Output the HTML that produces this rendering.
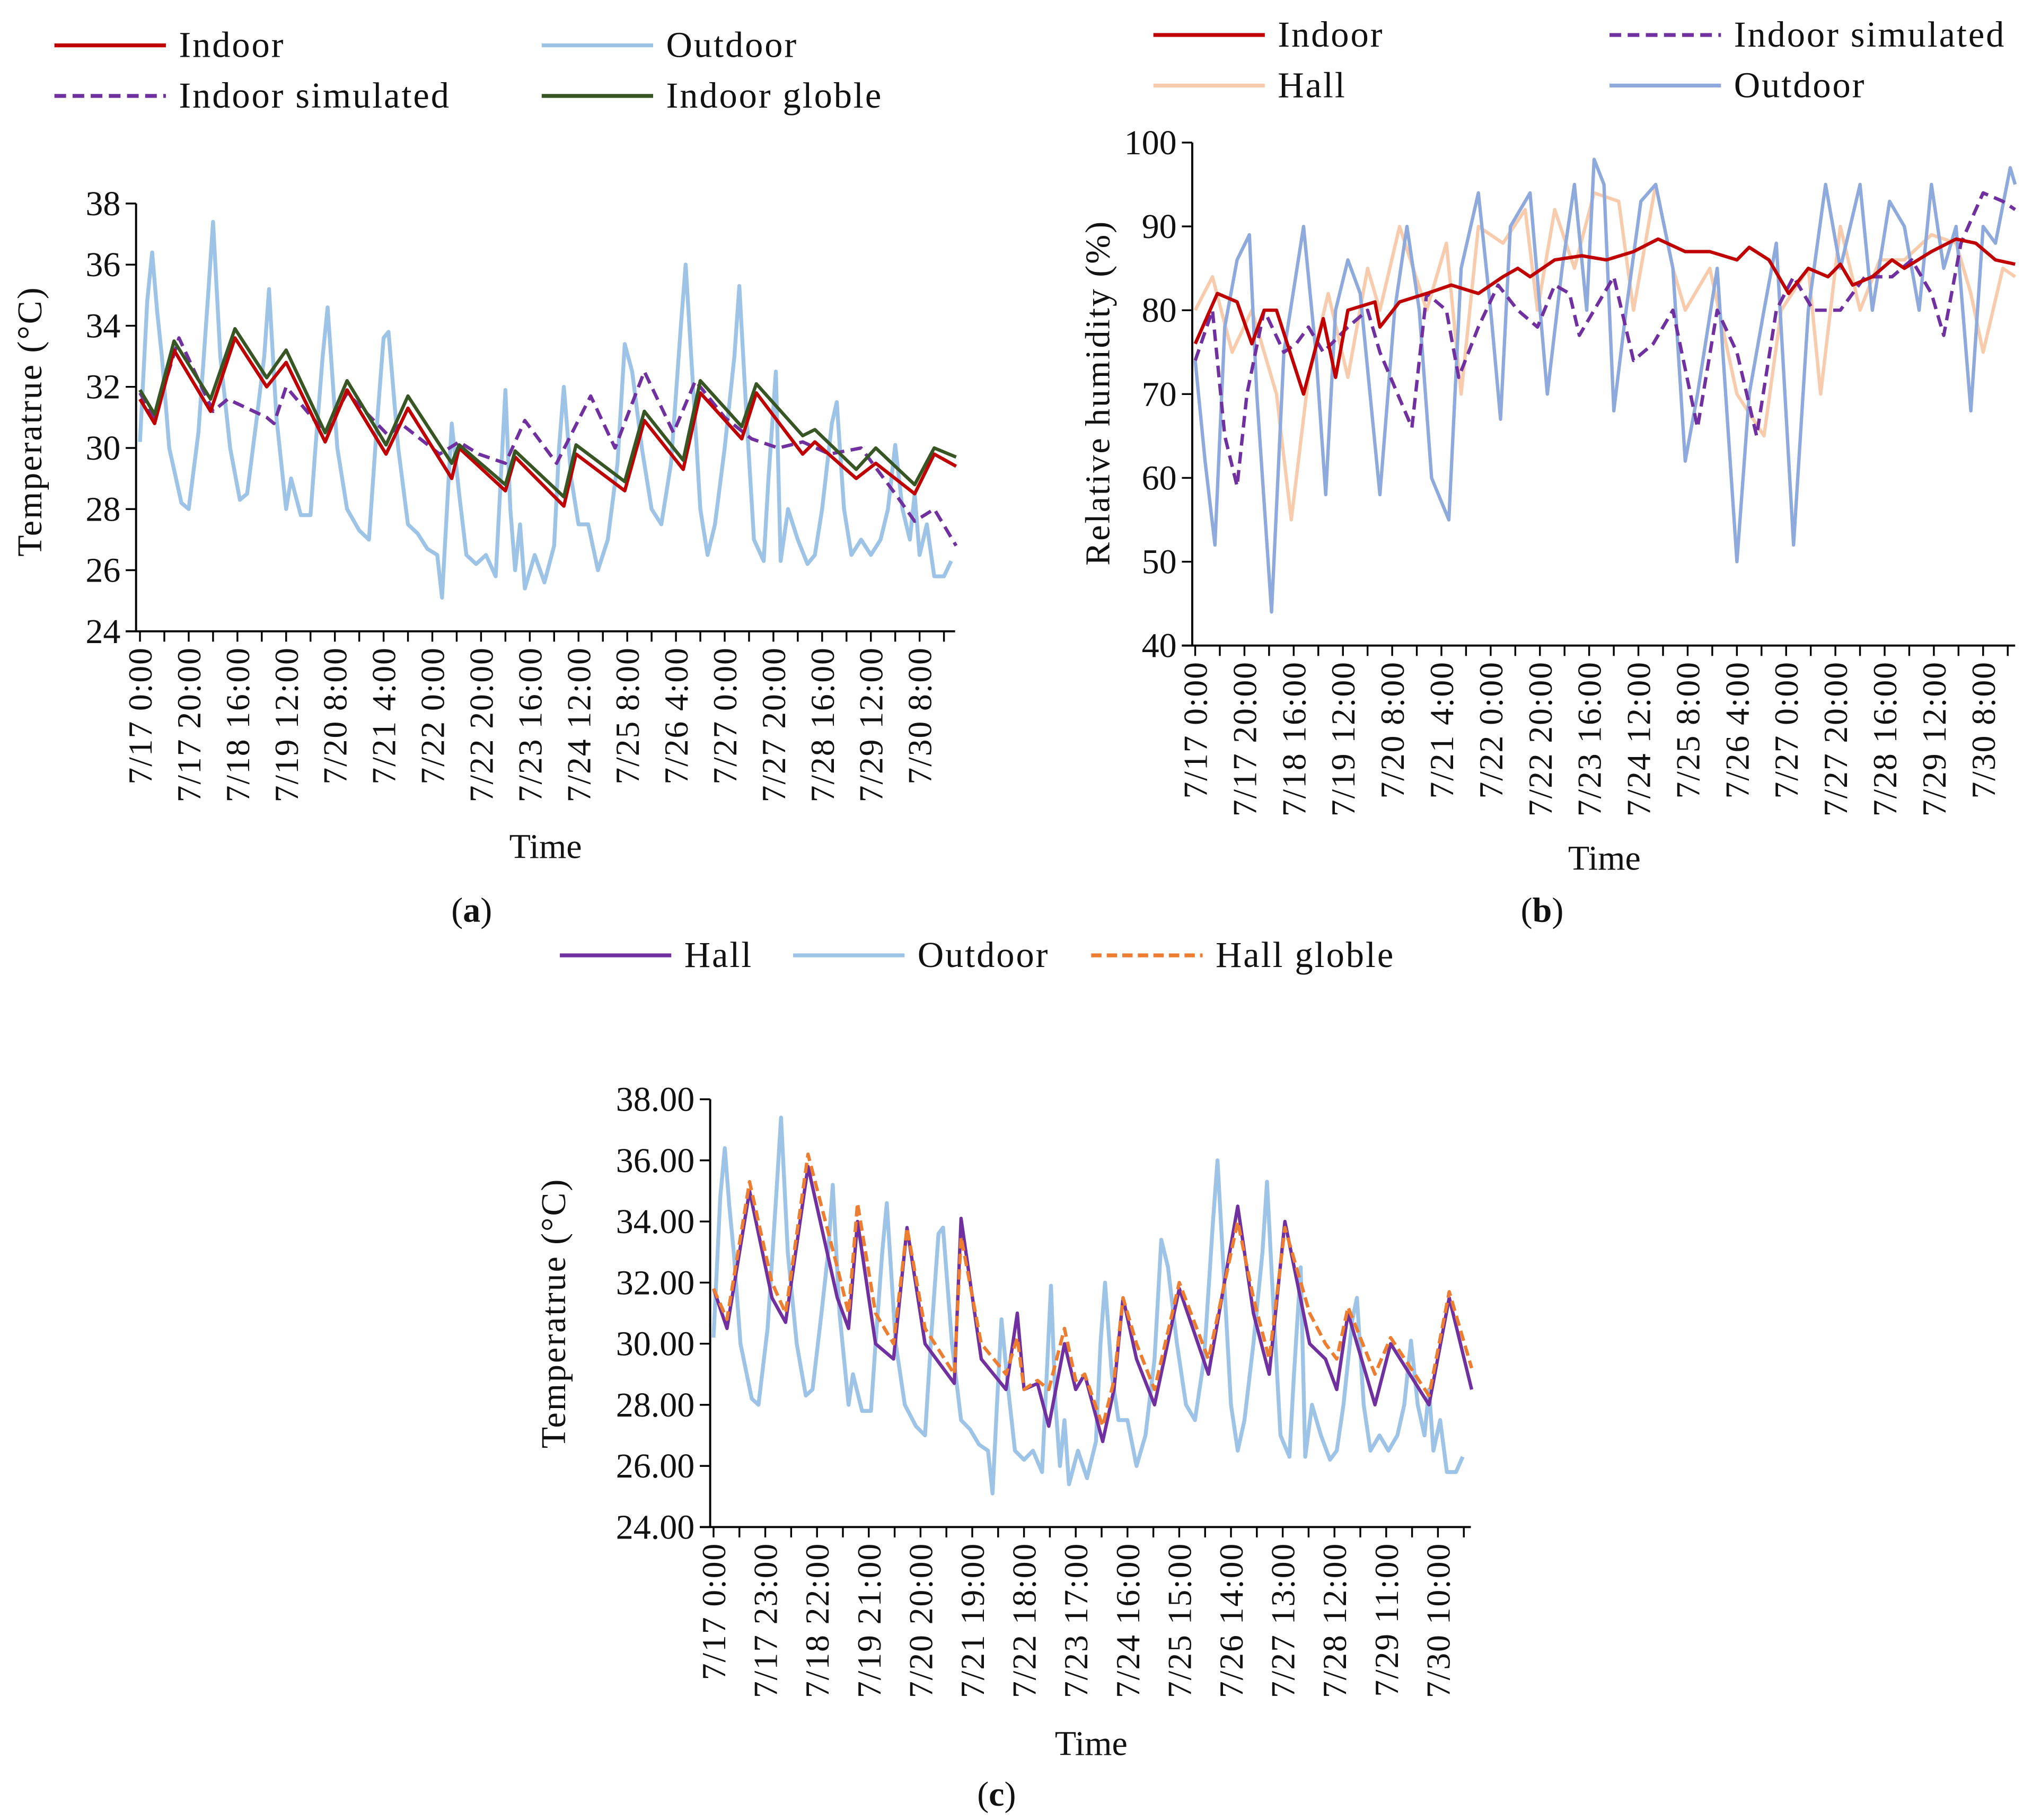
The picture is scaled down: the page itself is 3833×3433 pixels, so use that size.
<!DOCTYPE html>
<html><head><meta charset="utf-8">
<style>
html,body{margin:0;padding:0;background:#fff;}
svg{display:block;}
text{font-family:"Liberation Serif",serif;fill:#111;}
</style></head>
<body>
<svg id="fig" width="3833" height="3433" viewBox="0 0 1568 1404" preserveAspectRatio="none" xmlns="http://www.w3.org/2000/svg"></svg>
<script>
// ---------- shared outdoor temperature (hours, °C) ----------
const outTHours=[0,3,5,7,9,12,17,20,24,28,30,33,37,41,44,48,51,53,56,60,62,66,70,72,75,77,81,85,90,94,97,100,102,106,110,114,118,122,124,126,128,131,134,138,142,146,150,152,154,156,158,162,166,170,172,174,177,180,184,188,192,196,199,202,206,210,214,218,222,224,227,230,233,236,240,244,246,249,252,256,258,261,263,266,270,274,277,280,284,286,289,292,296,300,304,307,310,313,316,318,320,323,326,330,333];
const outTValues=[30.2,34.8,36.4,34.5,33,30,28.2,28,30.5,35,37.4,33,30,28.3,28.5,31,33,35.2,31,28,29,27.8,27.8,30,33,34.6,30,28,27.3,27,30.5,33.6,33.8,30,27.5,27.2,26.7,26.5,25.1,28,30.8,28.5,26.5,26.2,26.5,25.8,31.9,28,26,27.5,25.4,26.5,25.6,26.8,30,32,29,27.5,27.5,26,27,29.5,33.4,32.5,30,28,27.5,29.5,34,36,32,28,26.5,27.5,30,33,35.3,31,27,26.3,29,32.5,26.3,28,27,26.2,26.5,28,30.8,31.5,28,26.5,27,26.5,27,28,30.1,28,27,28.5,26.5,27.5,25.8,25.8,26.3];

// ---------- chart (a) ----------
const aIndoorHours=[0,6,14,29,39,52,60,76,85,101,110,128,131,150,154,174,179,199,207,223,230,247,253,272,277,294,302,318,326,335];
const aIndoorValues=[31.6,30.8,33.2,31.2,33.6,32,32.8,30.2,31.9,29.8,31.3,29,30,28.6,29.7,28.1,29.8,28.6,30.9,29.3,31.8,30.3,31.8,29.8,30.2,29,29.5,28.5,29.8,29.4];
const aGlobleValues=[31.9,31.1,33.5,31.6,33.9,32.3,33.2,30.5,32.2,30.1,31.7,29.5,30.1,28.8,29.9,28.4,30.1,28.9,31.2,29.6,32.2,30.7,32.1,30.4,30.6,29.3,30,28.8,30,29.7];
const aSimHours=[0,6,16,30,36,52,55,60,76,85,102,107,123,131,139,150,158,171,185,195,207,219,228,240,251,262,272,283,296,310,318,326,335];
const aSimValues=[31.8,31,33.6,31.2,31.6,31,30.8,32,30.5,31.8,30.4,30.8,29.8,30.2,29.8,29.5,30.9,29.5,31.7,30,32.5,30.5,32.2,31,30.3,30,30.2,29.8,30,28.5,27.6,28,26.8];
const aYTicks=[24,26,28,30,32,34,36,38];
const aXLabels=["7/17 0:00","7/17 20:00","7/18 16:00","7/19 12:00","7/20 8:00","7/21 4:00","7/22 0:00","7/22 20:00","7/23 16:00","7/24 12:00","7/25 8:00","7/26 4:00","7/27 0:00","7/27 20:00","7/28 16:00","7/29 12:00","7/30 8:00"];

// ---------- chart (b) ----------
const bOutHours=[0,4,8,12,17,22,25,31,36,44,49,53,57,62,67,75,81,86,91,96,103,108,115,120,124,128,136,143,149,154,159,162,166,170,175,181,187,194,199,204,212,220,225,231,236,243,249,256,262,270,275,282,288,294,299,304,309,315,320,325,331,333];
const bOutValues=[74,62,52,78,86,89,70,44,75,90,75,58,80,86,82,58,80,90,80,60,55,85,94,80,67,90,94,70,85,95,80,98,95,68,80,93,95,85,62,70,85,50,70,80,88,52,80,95,85,95,80,93,90,80,95,85,90,68,90,88,97,95];
const bInHours=[0,9,17,23,28,33,44,52,57,62,73,75,83,94,104,115,125,131,136,146,157,167,178,188,199,209,220,225,233,241,249,257,262,267,275,283,288,299,309,317,325,333];
const bInValues=[76,82,81,76,80,80,70,79,72,80,81,78,81,82,83,82,84,85,84,86,86.5,86,87,88.5,87,87,86,87.5,86,82,85,84,85.5,83,84,86,85,87,88.5,88,86,85.5];
const bSimHours=[0,7,12,17,21,28,36,41,46,52,62,70,75,88,94,102,107,115,123,131,139,146,152,156,162,170,178,186,194,204,212,220,228,236,243,251,262,272,283,291,299,304,311,320,328,333];
const bSimValues=[74,80,65,59,70,80,75,76,78,75,78,80,75,66,82,80,72,78,83,80,78,83,82,77,80,84,74,76,80,66,80,75,65,80,84,80,80,84,84,86,82,77,88,94,93,92];
const bHallHours=[0,7,15,23,28,33,39,46,54,62,70,75,83,94,102,108,115,125,134,139,146,154,162,172,178,187,194,199,209,220,231,238,249,254,262,270,278,288,299,309,315,320,328,333];
const bHallValues=[80,84,75,80,75,70,55,72,82,72,85,80,90,80,88,70,90,88,92,80,92,85,94,93,80,95,85,80,85,70,65,80,85,70,90,80,86,86,89,88,82,75,85,84];
const bYTicks=[40,50,60,70,80,90,100];

// ---------- chart (c) ----------
const cHallHours=[0,6,16,26,32,42,55,60,64,72,80,86,94,107,110,119,130,135,138,144,149,156,161,165,173,178,182,188,196,207,220,233,240,247,254,265,272,277,282,294,301,318,327,337];
const cHallValues=[31.8,30.5,35,31.5,30.7,35.8,31.5,30.5,34,30,29.5,33.8,30,28.7,34.1,29.5,28.5,31,28.5,28.7,27.3,30,28.5,29,26.8,28.5,31.5,29.5,28,31.8,29,34.5,31,29,34,30,29.5,28.5,31,28,30,28,31.5,28.5];
const cGlobleValues=[31.8,30.8,35.3,32,31,36.2,32.5,31,34.6,31,30,33.8,30.5,29,33.5,30,29,30.2,28.5,28.8,28.5,30.5,28.8,29,27.3,28.8,31.5,30,28.5,32,29.5,34,31.5,29.5,33.8,31,30,29.5,31.2,29,30.2,28.3,31.7,29.2];
const cYTicks=[24,26,28,30,32,34,36,38];
const cXLabels=["7/17 0:00","7/17 23:00","7/18 22:00","7/19 21:00","7/20 20:00","7/21 19:00","7/22 18:00","7/23 17:00","7/24 16:00","7/25 15:00","7/26 14:00","7/27 13:00","7/28 12:00","7/29 11:00","7/30 10:00"];

const NS="http://www.w3.org/2000/svg";
const svg=document.getElementById('fig');
function mk(tag,attrs,parent){const e=document.createElementNS(NS,tag);for(const k in attrs)e.setAttribute(k,attrs[k]);(parent||svg).appendChild(e);return e;}
function txt(s,attrs,parent){const e=mk('text',attrs,parent);e.textContent=s;return e;}

function chart(cfg){
  const g=mk('g',{});
  
  
  const X=h=>cfg.x0+(h-cfg.h0)*cfg.pxh;
  const Y=v=>cfg.yb-(v-cfg.ymin)/(cfg.ymax-cfg.ymin)*(cfg.yb-cfg.yt);
  cfg.series.forEach(s=>{
    const p=mk('polyline',{points:s.h.map((h,i)=>X(h).toFixed(1)+','+Y(s.v[i]).toFixed(1)).join(' '),fill:'none',stroke:s.color,'stroke-width':s.w||2.6,'stroke-linejoin':'round','stroke-dasharray':s.dash||'none'},g);
    
    
  });
  const ya=mk('line',{x1:cfg.x0,y1:cfg.yt,x2:cfg.x0,y2:cfg.yb,stroke:'#000','stroke-width':1.6},g);
  
  
  const xa=mk('line',{x1:cfg.x0-8,y1:cfg.yb,x2:cfg.xEnd,y2:cfg.yb,stroke:'#000','stroke-width':1.6},g);
  
  
  cfg.yTicks.forEach(v=>{
    mk('line',{x1:cfg.x0-8,y1:Y(v),x2:cfg.x0,y2:Y(v),stroke:'#000','stroke-width':1.4},g);
    const t=txt(cfg.fmt(v),{x:cfg.x0-12,y:Y(v)+9,'text-anchor':'end','font-size':27},g);
    
    
  });
  for(let h=0;X(h)<=cfg.xEnd;h+=cfg.minor){
    const tk=mk('line',{x1:X(h),y1:cfg.yb,x2:X(h),y2:cfg.yb+8,stroke:'#000','stroke-width':1.4},g);
    
    
  }
  cfg.xLabels.forEach((s,i)=>{
    const x=X(i*cfg.step);
    const t=txt(s,{x:0,y:0,'text-anchor':'end','font-size':26,'letter-spacing':0.8,transform:`translate(${x+9},${cfg.yb+12}) rotate(-90)`},g);
    
    
  });
  const xt=txt('Time',{x:cfg.xtX,y:cfg.xtY,'text-anchor':'middle','font-size':27},g);
  
  
  const yt=txt(cfg.ytitle,{x:0,y:0,'text-anchor':'middle','font-size':27,'letter-spacing':1.2,transform:`translate(${cfg.ytX},${cfg.ytY}) rotate(-90)`},g);
  
  
  const cap=txt('',{x:cfg.capX,y:cfg.capY,'text-anchor':'middle','font-size':27},g);
  
  
  cap.innerHTML='(<tspan font-weight="bold">'+cfg.cap+'</tspan>)';
  cfg.legend.forEach(l=>{
    const lg=mk('g',{},g);
    
    
    mk('line',{x1:l.x,y1:l.y,x2:l.x+86,y2:l.y,stroke:l.color,'stroke-width':3,'stroke-dasharray':l.dash||'none'},lg);
    txt(l.label,{x:l.x+96,y:l.y+9,'font-size':28,'letter-spacing':1.2},lg);
  });
}
const RED='#c00000',LB='#9dc3e6',PUR='#7030a0',GRN='#375623',PEACH='#f8cbad',BB='#8eaadc',ORG='#ed7d31';
chart({name:'chart-a',x0:105,h0:-1.6,pxh:1.88,xEnd:737,yt:157,yb:487,ymin:24,ymax:38,yTicks:aYTicks,fmt:v=>String(v),
  minor:10,step:20,xLabels:aXLabels,xtX:421,xtY:662,ytitle:'Temperatrue (°C)',ytX:32,ytY:325,capX:364,capY:711,cap:'a',
  series:[{id:'outdoor-line',h:outTHours,v:outTValues,color:LB,w:3},
          {id:'indoor-simulated-line',h:aSimHours,v:aSimValues,color:PUR,dash:'9,5'},
          {id:'indoor-line',h:aIndoorHours,v:aIndoorValues,color:RED},
          {id:'indoor-globle-line',h:aIndoorHours,v:aGlobleValues,color:GRN}],
  legend:[{x:42,y:35,color:RED,label:'Indoor'},{x:418,y:35,color:LB,label:'Outdoor'},
          {x:42,y:74,color:PUR,dash:'9,5',label:'Indoor simulated'},{x:418,y:74,color:GRN,label:'Indoor globle'}]});
chart({name:'chart-b',x0:920,h0:-1.2,pxh:1.9,xEnd:1555,yt:110,yb:498,ymin:40,ymax:100,yTicks:bYTicks,fmt:v=>String(v),
  minor:10,step:20,xLabels:aXLabels,xtX:1238,xtY:671,ytitle:'Relative humidity (%)',ytX:856,ytY:303,capX:1190,capY:711,cap:'b',
  series:[{id:'hall-rh-line',h:bHallHours,v:bHallValues,color:PEACH,w:2.6},
          {id:'outdoor-rh-line',h:bOutHours,v:bOutValues,color:BB,w:2.6},
          {id:'indoor-simulated-rh-line',h:bSimHours,v:bSimValues,color:PUR,dash:'9,5'},
          {id:'indoor-rh-line',h:bInHours,v:bInValues,color:RED}],
  legend:[{x:890,y:27,color:RED,label:'Indoor'},{x:1242,y:27,color:PUR,dash:'9,5',label:'Indoor simulated'},
          {x:890,y:66,color:PEACH,label:'Hall'},{x:1242,y:66,color:BB,label:'Outdoor'}]});
chart({name:'chart-c',x0:548,h0:-1.5,pxh:1.736,xEnd:1135,yt:848,yb:1178,ymin:24,ymax:38,yTicks:cYTicks,fmt:v=>v.toFixed(2),
  minor:11.5,step:23,xLabels:cXLabels,xtX:842,xtY:1354,ytitle:'Temperatrue (°C)',ytX:436,ytY:1013,capX:769,capY:1393,cap:'c',
  series:[{id:'outdoor-line-c',h:outTHours,v:outTValues,color:LB,w:3},
          {id:'hall-line',h:cHallHours,v:cHallValues,color:PUR},
          {id:'hall-globle-line',h:cHallHours,v:cGlobleValues,color:ORG,dash:'8,4'}],
  legend:[{x:432,y:737,color:PUR,label:'Hall'},{x:612,y:737,color:LB,label:'Outdoor'},{x:842,y:737,color:ORG,dash:'8,4',label:'Hall globle'}]});
</script>
</body></html>
